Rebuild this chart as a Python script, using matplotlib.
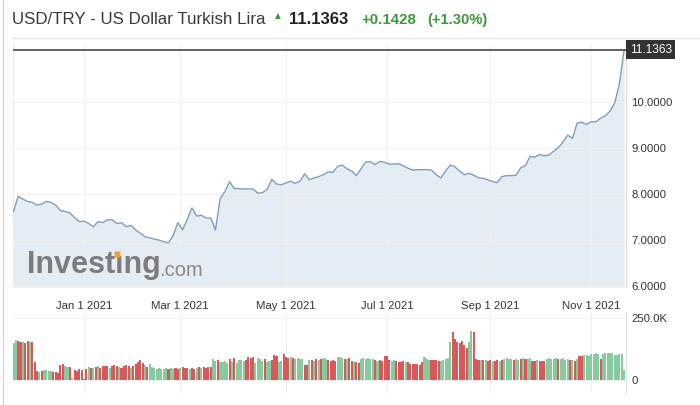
import numpy as np
import pandas as pd
import matplotlib
matplotlib.use('Agg')
import matplotlib.pyplot as plt
from matplotlib.lines import Line2D

plt.rcParams['font.family'] = ['Liberation Sans', 'DejaVu Sans']

# USD/TRY closes, one value every second trading day (20 Nov 2020 -> 19 Nov 2021)
price = [7.62, 7.95, 7.89, 7.84, 7.82, 7.76, 7.78, 7.84, 7.82, 7.76,
         7.64, 7.62, 7.59, 7.49, 7.40, 7.41, 7.36, 7.29, 7.40, 7.38,
         7.44, 7.44, 7.36, 7.38, 7.29, 7.32, 7.22, 7.15, 7.07, 7.05,
         7.02, 7.00, 6.96, 6.94, 7.10, 7.38, 7.22, 7.45, 7.70, 7.52,
         7.54, 7.48, 7.48, 7.22, 7.90, 8.05, 8.27, 8.12, 8.12, 8.11,
         8.11, 8.11, 8.02, 8.03, 8.10, 8.32, 8.22, 8.20, 8.24, 8.28,
         8.23, 8.28, 8.44, 8.31, 8.35, 8.38, 8.42, 8.48, 8.47, 8.60,
         8.63, 8.55, 8.50, 8.40, 8.55, 8.70, 8.70, 8.64, 8.71, 8.69,
         8.65, 8.65, 8.66, 8.61, 8.56, 8.52, 8.53, 8.53, 8.53, 8.52,
         8.42, 8.35, 8.50, 8.63, 8.59, 8.50, 8.42, 8.45, 8.41, 8.35,
         8.34, 8.31, 8.27, 8.25, 8.38, 8.40, 8.40, 8.41, 8.57, 8.62,
         8.82, 8.80, 8.86, 8.83, 8.85, 8.93, 9.01, 9.13, 9.28, 9.21,
         9.54, 9.56, 9.51, 9.57, 9.57, 9.65, 9.70, 9.80, 9.98, 10.40,
         11.1363]
last_price = 11.1363
change = '+0.1428'
change_pct = '(+1.30%)'

# daily volume (thousands), g = up day, r = down day
volume = [150, 160, 156, 152, 155, 150, 156, 152, 155, 74,
          36, 34, 38, 40, 40, 38, 38, 34, 32, 30, 62, 64,
          56, 54, 52, 8, 42, 36, 46, 42, 6,
          46, 54, 50, 48, 52, 56, 50, 56, 58, 56, 50, 58,
          60, 56, 52, 50, 56, 60, 56, 50, 56, 64, 72, 80, 70, 62,
          52, 66, 54, 50, 46, 48, 46, 45, 50, 44, 47, 46, 50, 46, 48,
          52, 50, 48, 46, 50, 46, 50, 52, 48, 52, 50, 54, 52, 84, 76, 82,
          74, 72, 76, 70, 86, 72, 88, 68, 80, 82, 78, 80, 94, 90, 92, 70,
          88, 84, 76, 86, 72, 78, 80, 100, 98, 74, 76, 106, 94, 90, 92, 88,
          86, 88, 84, 86, 60, 62, 80, 82, 78, 84, 80, 86, 88, 84, 80, 78,
          80, 76, 94, 92, 88, 86, 84, 88, 76, 72, 74, 70, 86, 88, 86, 88,
          86, 84, 80, 78, 80, 76, 98, 96, 80, 78, 80, 76, 74, 72, 76, 74,
          72, 66, 64, 66, 64, 62, 74, 94, 84, 82, 80, 80, 82, 78, 76,
          80, 86, 88, 154, 192, 164, 154, 150, 158, 140, 128, 154, 198, 194,
          84, 82, 80, 82, 80, 78, 80, 78, 76, 80, 78, 82,
          86, 88, 86, 84, 82, 84, 80, 86, 88, 86, 84, 88,
          78, 76, 80, 78, 76, 78, 86, 88, 84, 86, 88, 84,
          86, 88, 82, 86, 82, 80, 78, 84, 96, 98,
          100, 102, 98, 104, 106, 108, 104, 84, 106, 108,
          110, 108, 110, 100, 102, 106, 104, 40]
vol_dir = ('ggrrgrrgr' 'r' 'rgr' 'ggg' 'grr' 'rrr' 'ggr' 'g' 'rrrr' 'r'
           'rgr' 'grgr' 'rrrgr' 'rrgr' 'rrrg' 'rrr' 'rrg' 'rgg' 'gggg'
           'ggrg' 'grrg' 'rrrg' 'rrgr' 'grrr' 'rggr' 'gggg' 'rgrg' 'gggr'
           'rrrg' 'gggr' 'ggrr' 'rggr' 'rrgr' 'gggg' 'rrgr' 'grgr' 'ggrr'
           'rrgg' 'grgr' 'rgrr' 'gggg' 'ggrg' 'rrrr' 'rggr' 'rrrg' 'rrrr'
           'rrrg' 'ggr' 'rrrg' 'ggg' 'grrrrrrrggr' 'rrgrg' 'rrgr' 'rgr'
           'gggg' 'rggr' 'grgg' 'rrgrrr' 'gggggr' 'gggg' 'rgrg' 'rr'
           'gggg' 'ggg' 'r' 'gg' 'ggg' 'gg' 'gg' 'g')

tick_dates = ['2021-01-01', '2021-03-01', '2021-05-03',
              '2021-07-01', '2021-09-01', '2021-11-01']
tick_labels = ['Jan 1 2021', 'Mar 1 2021', 'May 1 2021',
               'Jul 1 2021', 'Sep 1 2021', 'Nov 1 2021']
price_ticks = [6, 7, 8, 9, 10]
vol_ticks = [0, 250]
vol_tick_labels = ['0', '250.0K']

# trading-day axis: one slot per business day
vol_dates = pd.bdate_range('2020-11-20', periods=len(volume))
vol_x = np.arange(len(volume))
price_x = np.arange(len(price)) * 2
tick_x = [vol_dates.get_loc(pd.Timestamp(d)) for d in tick_dates]

line_c = '#7f9dbf'
fill_c = '#e4ecf4'
up_c = '#86cb9e'
down_c = '#d9585a'
text_c = '#333333'
green = '#3a9a3a'

fig = plt.figure(figsize=(7, 4.05), dpi=100)
W, H = 700, 405

def fx(px):
    return px / W

def fy(py):
    return 1 - py / H

ax = fig.add_axes([fx(13), fy(287), fx(626) - fx(13), fy(44) - fy(287)])
axv = fig.add_axes([fx(13), fy(393), fx(626) - fx(13), fy(312) - fy(393)], sharex=ax)
axv.patch.set_alpha(0)

# price panel
ax.set_ylim(5.98, 11.26)
ax.fill_between(price_x, price, 5.98, color=fill_c, lw=0, zorder=1)
ax.plot(price_x, price, color=line_c, lw=1.0, zorder=3)
ax.axhline(last_price, color='#555555', lw=1.3, zorder=4)
ax.set_xlim(-0.2, len(volume) - 0.2)
ax.set_yticks(price_ticks)
ax.set_yticklabels(['%.4f' % v for v in price_ticks])
ax.yaxis.tick_right()
ax.set_xticks(tick_x)
ax.set_xticklabels(tick_labels)
ax.tick_params(axis='both', length=0, labelsize=8.2, colors=text_c)
ax.tick_params(axis='x', pad=10)
ax.tick_params(axis='y', pad=4)
ax.grid(True, color='#f1f1f1', lw=0.8, zorder=0)
for s in ['top', 'bottom']:
    ax.spines[s].set_visible(False)
ax.spines['left'].set_color('#ececec')
ax.spines['right'].set_color('#dcdcdc')

ax.text(1.006, (last_price - 5.98) / (11.26 - 5.98), '11.1363', transform=ax.transAxes,
        ha='left', va='center', fontsize=8.6, color='white',
        bbox=dict(boxstyle='square,pad=0.3', fc='#333333', ec='none'), zorder=6)

# watermark
t1 = ax.text(fx(27), fy(273), 'Investıng', transform=fig.transFigure, fontsize=22,
             fontweight='bold', color='#7c7c7c', ha='left', va='baseline', zorder=5)
ax.annotate('.com', xy=(1, 0), xycoords=t1, xytext=(-1, 0), textcoords='offset points',
            fontsize=14.5, color='#8a8a8a', ha='left', va='bottom', zorder=5)
fig.add_artist(Line2D([fx(117)], [fy(254)], marker='s', ms=4, color='#f0a030', mec='none'))

# volume panel
axv.bar(vol_x, volume, width=0.88,
        color=[up_c if c == 'g' else down_c for c in vol_dir], lw=0, zorder=2)
axv.set_ylim(-52, 274)
axv.set_yticks(vol_ticks)
axv.set_yticklabels(vol_tick_labels)
axv.yaxis.tick_right()
axv.tick_params(axis='both', length=0, labelsize=8.2, colors=text_c)
axv.tick_params(axis='x', labelbottom=False)
axv.tick_params(axis='y', pad=4)
axv.grid(True, color='#f1f1f1', lw=0.8, zorder=0)
for s in ['top', 'bottom', 'left']:
    axv.spines[s].set_visible(False)
axv.spines['right'].set_color('#dcdcdc')

# header
fig.text(fx(12), fy(20), 'USD/TRY - US Dollar Turkish Lira', fontsize=12.2,
         color='#3a3a3a', ha='left', va='center')
fig.text(fx(278), fy(16), '▲', fontsize=5.5, color=green, ha='center', va='center',
         family=['DejaVu Sans'])
fig.text(fx(289), fy(20), '%.4f' % last_price, fontsize=12, fontweight='bold',
         color='#222222', ha='left', va='center')
fig.text(fx(361), fy(20), change, fontsize=10.8, fontweight='bold', color=green,
         ha='left', va='center')
fig.text(fx(427), fy(20), change_pct, fontsize=10.6, fontweight='bold', color=green,
         ha='left', va='center')
fig.add_artist(Line2D([fx(12), 1], [fy(38), fy(38)], color='#e2e2e2', lw=1))
fig.add_artist(Line2D([fx(3), fx(3)], [0, 1], color='#d8d8d8', lw=1))

fig.savefig('out.png', dpi=100, facecolor='white')
